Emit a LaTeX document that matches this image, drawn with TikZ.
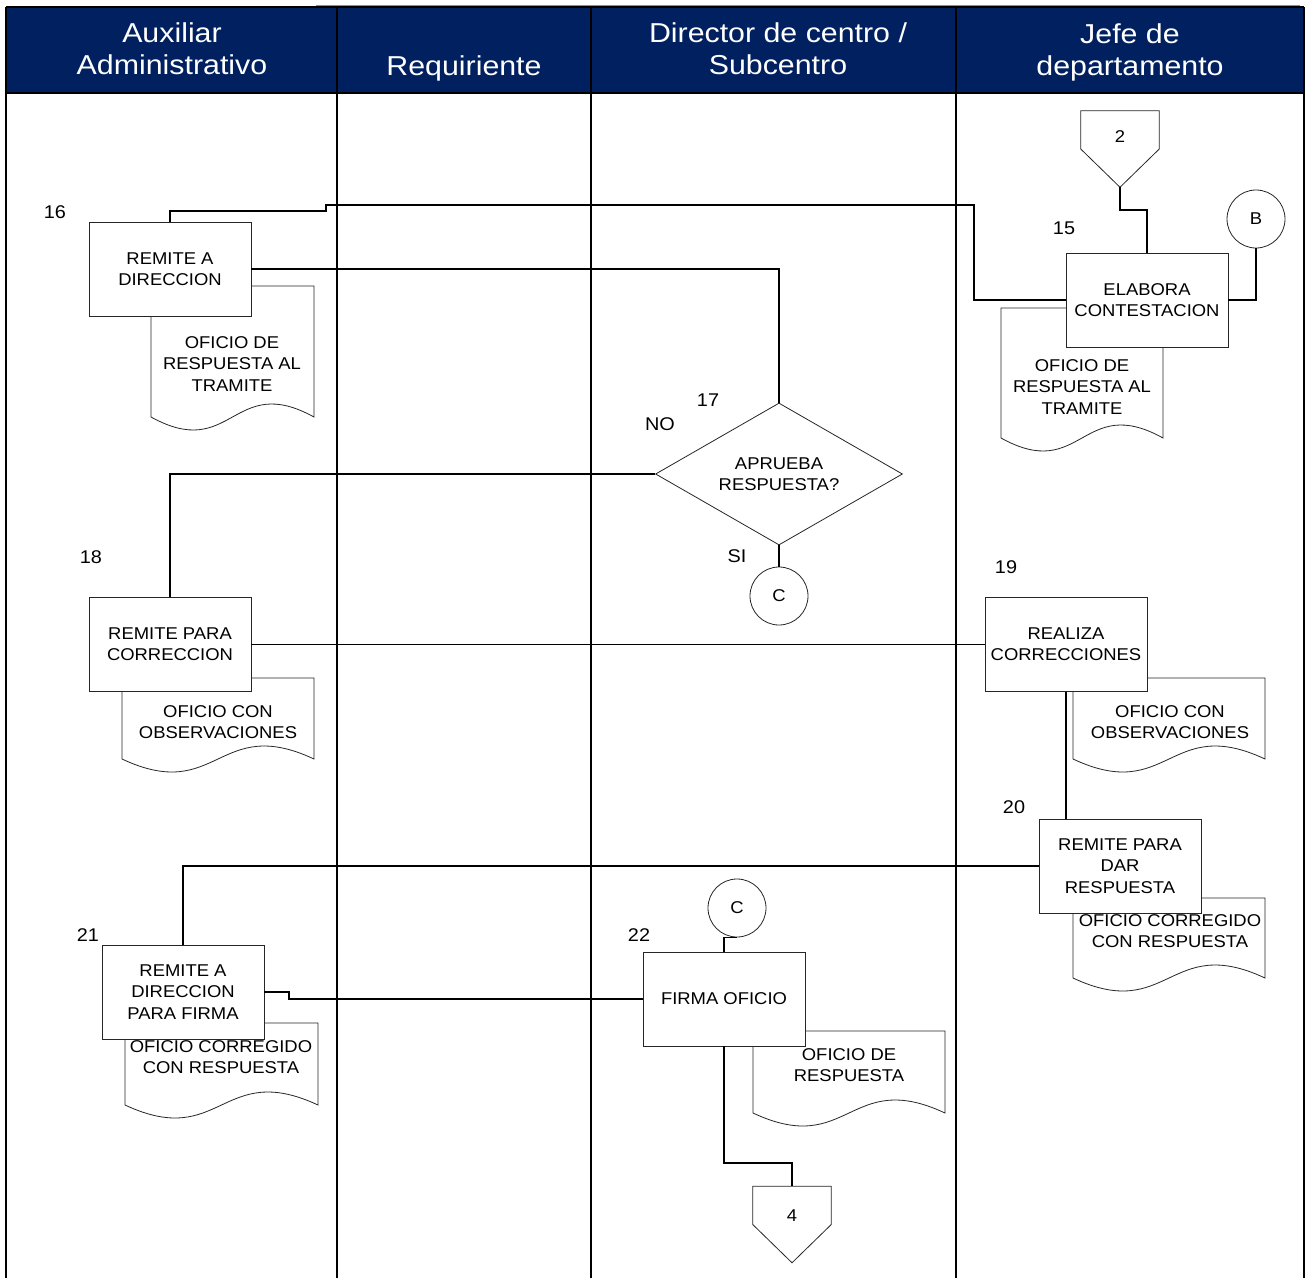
\documentclass[tikz,border=0pt]{standalone}
\usepackage{fontspec}
\setmainfont[FakeStretch=1.08]{Liberation Sans}
\newfontfamily\hdrfont[FakeStretch=1.11]{Liberation Sans}
\usetikzlibrary{shapes.geometric}
\definecolor{navy}{RGB}{0,32,96}
\newcommand\docsh[4]{\path[docline] (#1,#3) -- (#1,#4) .. controls ({(#1+#2)/2},{#4+45}) and ({(#1+#2)/2},{#4-45}) .. (#2,#4) -- (#2,#3) -- cycle;}
\begin{document}
\begin{tikzpicture}[x=0.75pt,y=-0.75pt,
  font=\fontsize{12.8}{16}\selectfont,
  conn/.style={line width=1.2pt, black},
  lane/.style={line width=1.3pt, black},
  boxnode/.style={draw=black!85, line width=0.6pt, fill=white, minimum width=121.5pt, minimum height=70.5pt, inner sep=0pt, align=center},
  docline/.style={draw=black!85, line width=0.6pt, fill=white},
  doctext/.style={align=center, inner sep=0pt},
  conncirc/.style={circle, draw=black!85, line width=0.6pt, fill=white, minimum size=43.5pt, inner sep=0pt},
  decision/.style={diamond, draw=black!85, line width=0.6pt, fill=white, aspect=1.74, minimum width=185.25pt, minimum height=106.5pt, inner sep=0pt, align=center},
  offpg/.style={minimum width=58.5pt, minimum height=57pt, inner sep=0pt},
  steplabel/.style={inner sep=0pt, font=\fontsize{13.8}{16}\selectfont},
  hdr/.style={text=white, align=center, inner sep=0pt, font=\hdrfont\fontsize{20.5}{24}\selectfont}
]
\useasboundingbox (0,0) rectangle (1307,1278);
% header and lanes
\draw[black!45, line width=0.6pt] (316,5) -- (1300,5);
\fill[navy] (6,7) rectangle (1304,93);
\draw[lane] (6,7) -- (1304,7);
\draw[lane] (6,93) -- (1304,93);
\foreach \lx in {6,337,591,956,1304} \draw[lane] (\lx,7) -- (\lx,1280);
\node[hdr] (h1) at (172,49) {Auxiliar\\Administrativo};
\node[hdr] (h2) at (464,68) {Requiriente};
\node[hdr] (h3) at (778,49) {Director de centro /\\Subcentro};
\node[hdr] (h4) at (1130,52) {Jefe de\\departamento};

% documents
\docsh{151}{314}{286}{417}
\node[doctext] (d16) at (232,364) {OFICIO DE\\RESPUESTA AL\\TRAMITE};
\docsh{1001}{1163}{308}{438}
\node[doctext] (d15) at (1082,387) {OFICIO DE\\RESPUESTA AL\\TRAMITE};
\docsh{122}{314}{678}{759}
\node[doctext] (d18) at (218,722) {OFICIO CON\\OBSERVACIONES};
\docsh{1073}{1265}{678}{759}
\node[doctext] (d19) at (1170,722) {OFICIO CON\\OBSERVACIONES};
\docsh{1073}{1265}{898}{978}
\node[doctext] (d20) at (1170,931) {OFICIO CORREGIDO\\CON RESPUESTA};
\docsh{125}{318}{1023}{1105}
\node[doctext] (d21) at (221,1057) {OFICIO CORREGIDO\\CON RESPUESTA};
\docsh{753}{945}{1031}{1113}
\node[doctext] (d22) at (849,1065) {OFICIO DE\\RESPUESTA};

% process boxes
\node[boxnode] (b16) at (170,269) {REMITE A\\DIRECCION};
\node[boxnode] (b15) at (1147,300) {ELABORA\\CONTESTACION};
\node[boxnode] (b18) at (170,644.5) {REMITE PARA\\CORRECCION};
\node[boxnode] (b19) at (1066,644.5) {REALIZA\\CORRECCIONES};
\node[boxnode] (b20) at (1120,866) {REMITE PARA\\DAR\\RESPUESTA};
\node[boxnode] (b21) at (183,992) {REMITE A\\DIRECCION\\PARA FIRMA};
\node[boxnode] (b22) at (724,999) {FIRMA OFICIO};

% decision, connectors, off-page
\node[decision] (d17) at (779,474) {APRUEBA\\RESPUESTA?};
\node[conncirc] (cB) at (1256,219) {B};
\node[conncirc] (cC1) at (779,596) {C};
\node[conncirc] (cC2) at (737,908) {C};
\node[offpg] (op2) at (1120,149) {};
\draw[docline] (op2.north west) -- (op2.north east) -- (op2.east) -- (op2.south) -- (op2.west) -- cycle;
\node[steplabel, font=\fontsize{12.8}{16}\selectfont] (op2t) at (1120,137) {2};
\node[offpg] (op4) at (792,1224.5) {};
\draw[docline] (op4.north west) -- (op4.north east) -- (op4.east) -- (op4.south) -- (op4.west) -- cycle;
\node[steplabel, font=\fontsize{12.8}{16}\selectfont] (op4t) at (792,1216) {4};

% step numbers and labels
\node[steplabel] (n16) at (55,212) {16};
\node[steplabel] (n15) at (1064,228) {15};
\node[steplabel] (n17) at (708,400) {17};
\node[steplabel] (lno) at (660,424) {NO};
\node[steplabel] (lsi) at (737,556) {SI};
\node[steplabel] (n18) at (91,557) {18};
\node[steplabel] (n19) at (1006,567) {19};
\node[steplabel] (n20) at (1014,807) {20};
\node[steplabel] (n21) at (88,935) {21};
\node[steplabel] (n22) at (639,935) {22};

% connectors
\draw[conn] (b16.north) |- (326,211) |- (974,205) |- (b15.west);
\draw[conn] (b16.east) -| (d17.north);
\draw[conn] (op2.south) |- (1147,210) -- (b15.north);
\draw[conn] (cB.south) |- (b15.east);
\draw[conn] (d17.south) -- (cC1.north);
\draw[conn] (d17.west) -| (b18.north);
\draw[conn] (b18.east) -- (b19.west);
\draw[conn] (b19.south) -- (b19.south |- b20.north);
\draw[conn] (b20.west) -| (b21.north);
\draw[conn] (b21.east) -| (289,999) -- (b22.west);
\draw[conn] (cC2.south) -| (b22.north);
\draw[conn] (b22.south) |- (792,1163) -- (op4.north);
\end{tikzpicture}
\end{document}
